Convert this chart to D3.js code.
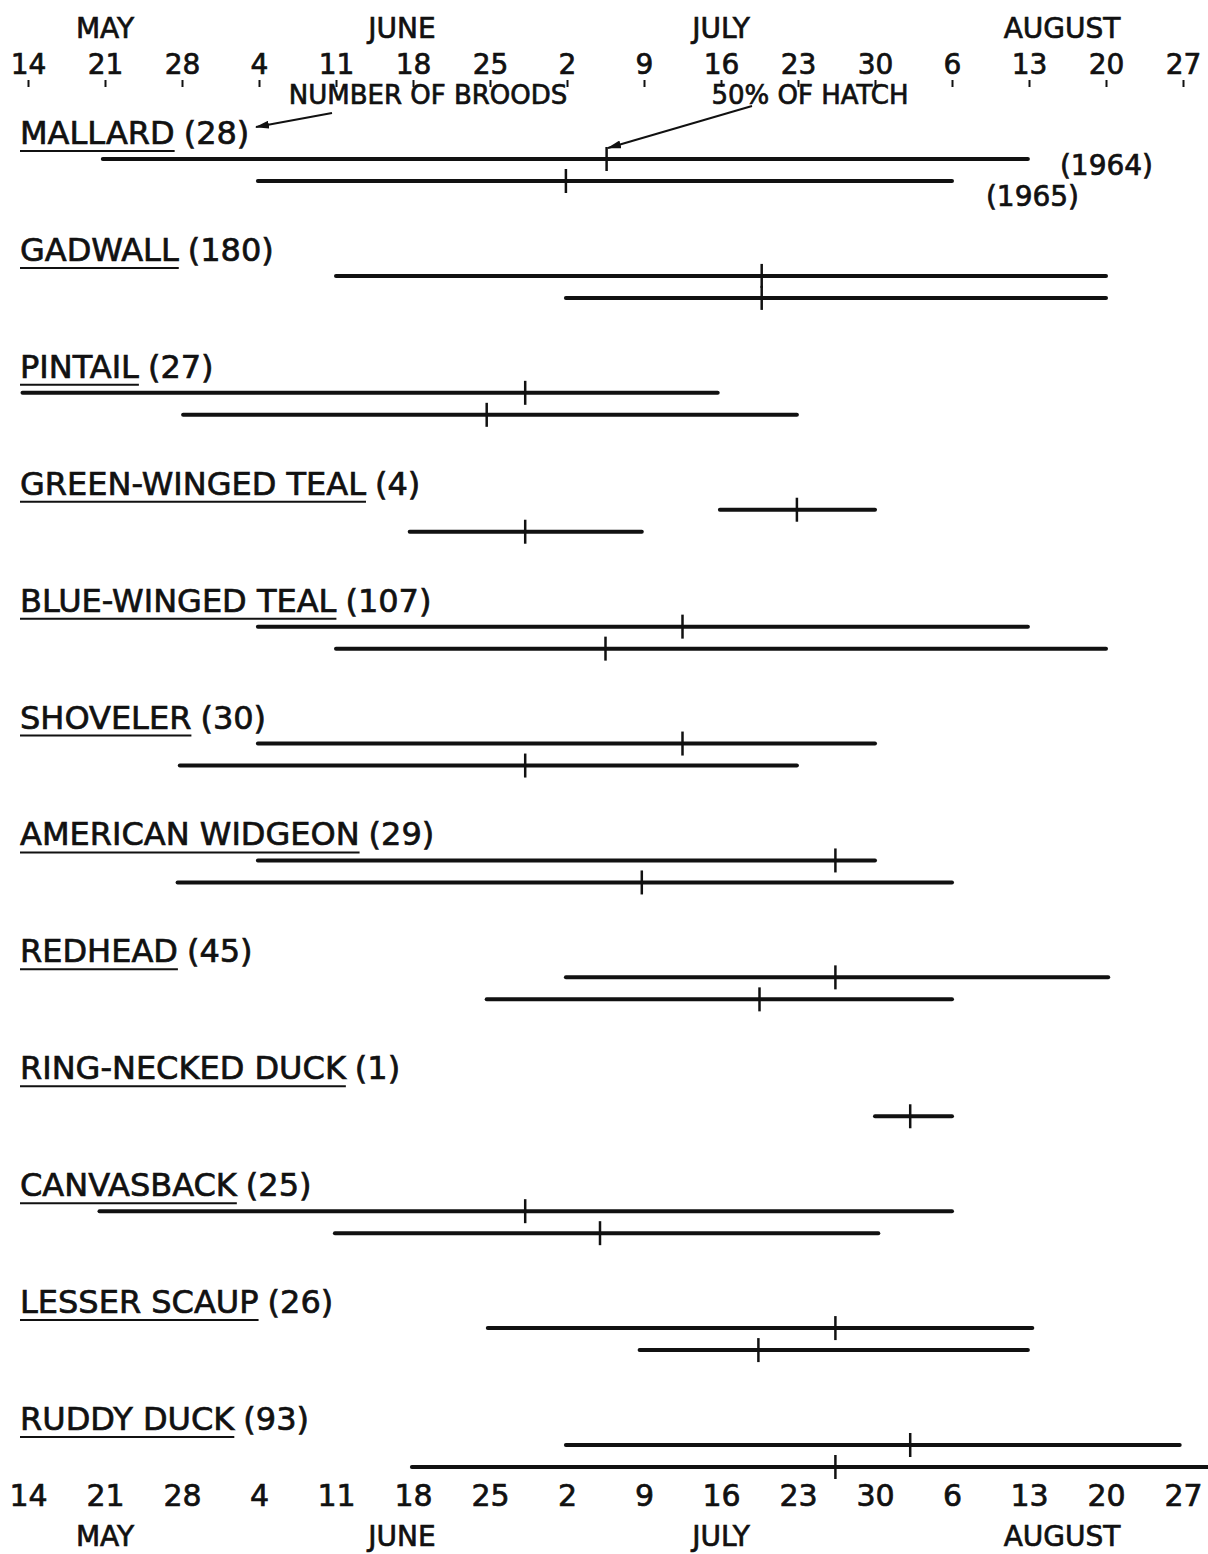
<!DOCTYPE html>
<html>
<head>
<meta charset="utf-8">
<script src="https://cdn.jsdelivr.net/npm/d3@7"></script>
<style>
  body { margin: 0; background: #fff; }
  text { font-family: 'DejaVu Sans', sans-serif; fill: #111; stroke: #111; stroke-width: 0.7; }
</style>
</head>
<body>
<div id="chart"></div>
<script>
// days counted from May 14 (day 0)
var tickDays = [0, 7, 14, 21, 28, 35, 42, 49, 56, 63, 70, 77, 84, 91, 98, 105]
var tickLabels = ['14', '21', '28', '4', '11', '18', '25', '2', '9', '16', '23', '30', '6', '13', '20', '27']
var months = ['MAY', 'JUNE', 'JULY', 'AUGUST']
var monthDays = [7, 34, 63, 94]

var species = ['MALLARD', 'GADWALL', 'PINTAIL', 'GREEN-WINGED TEAL', 'BLUE-WINGED TEAL', 'SHOVELER',
  'AMERICAN WIDGEON', 'REDHEAD', 'RING-NECKED DUCK', 'CANVASBACK', 'LESSER SCAUP', 'RUDDY DUCK']
var broods = [28, 180, 27, 4, 107, 30, 29, 45, 1, 25, 26, 93]

// hatch period per year: [start, end, 50% of hatch], null where none
var start1964 = [6.8, 28, -0.5, 62.9, 20.9, 20.9, 20.9, 48.9, null, 6.5, 41.8, 48.9]
var end1964 = [90.9, 98, 62.7, 77, 90.9, 77, 77, 98.2, null, 84, 91.3, 104.7]
var mid1964 = [52.6, 66.7, 45.2, 69.9, 59.5, 59.5, 73.4, 73.4, null, 45.2, 73.4, 80.2]

var start1965 = [20.9, 48.9, 14.1, 34.7, 28, 13.8, 13.6, 41.7, 77, 27.9, 55.6, 34.9]
var end1965 = [84, 98, 69.9, 55.8, 98, 69.9, 84, 84, 84, 77.3, 90.9, 107.3]
var mid1965 = [48.9, 66.7, 41.7, 45.2, 52.5, 45.2, 55.8, 66.5, 80.2, 52, 66.4, 73.4]

var years = ['1964', '1965']

var width = 1208
var height = 1554

var svg = d3.select('#chart')
  .append('svg')
  .attr('width', width)
  .attr('height', height)

var x = d3.scaleLinear().domain([0, 105]).range([28, 1183])

var rowScale = d3.scalePoint().domain(species).range([144, 1430])
var yearOffset = d3.scalePoint().domain(years).range([15, 37])

var rows = species.map(function(name, i) {
  return {
    name: name,
    n: broods[i],
    periods: [
      { year: '1964', start: start1964[i], end: end1964[i], mid: mid1964[i] },
      { year: '1965', start: start1965[i], end: end1965[i], mid: mid1965[i] }
    ].filter(function(p) { return p.start !== null })
  }
})

// top axis: numbers above small ticks
var topAxis = d3.axisTop(x)
  .tickValues(tickDays)
  .tickFormat(function(d, i) { return tickLabels[i] })
  .tickSize(7)
  .tickPadding(6)

var gTop = svg.append('g')
  .attr('transform', 'translate(0,87)')
  .call(topAxis)
gTop.select('.domain').remove()
gTop.selectAll('.tick line').attr('stroke', '#111').attr('stroke-width', 2)
gTop.selectAll('.tick text')
  .attr('font-size', 28)
  .attr('font-family', 'DejaVu Sans')
  .attr('fill', '#111')

// bottom axis: numbers only
var bottomAxis = d3.axisBottom(x)
  .tickValues(tickDays)
  .tickFormat(function(d, i) { return tickLabels[i] })
  .tickSize(0)
  .tickPadding(0)

var gBottom = svg.append('g')
  .attr('transform', 'translate(0,1485)')
  .call(bottomAxis)
gBottom.select('.domain').remove()
gBottom.selectAll('.tick text')
  .attr('font-size', 30)
  .attr('font-family', 'DejaVu Sans')
  .attr('fill', '#111')

// month labels
svg.selectAll('.month-top')
  .data(months)
  .enter()
  .append('text')
  .attr('class', 'month-top')
  .attr('x', function(d, i) { return x(monthDays[i]) })
  .attr('y', 38)
  .attr('text-anchor', 'middle')
  .attr('font-size', 28)
  .text(function(d) { return d })

svg.selectAll('.month-bottom')
  .data(months)
  .enter()
  .append('text')
  .attr('class', 'month-bottom')
  .attr('x', function(d, i) { return x(monthDays[i]) })
  .attr('y', 1546)
  .attr('text-anchor', 'middle')
  .attr('font-size', 28)
  .text(function(d) { return d })

// rows
var row = svg.selectAll('.row')
  .data(rows)
  .enter()
  .append('g')
  .attr('class', 'row')
  .attr('transform', function(d) { return 'translate(0,' + rowScale(d.name) + ')' })

row.each(function(d) {
  var g = d3.select(this)
  var label = g.append('text')
    .attr('x', 20)
    .attr('y', 0)
    .attr('font-size', 32)
    .text(d.name)
  var w = label.node().getComputedTextLength()

  g.append('line')
    .attr('x1', 20)
    .attr('x2', 20 + w)
    .attr('y1', 7)
    .attr('y2', 7)
    .attr('stroke', '#111')
    .attr('stroke-width', 2)

  g.append('text')
    .attr('x', 20 + w + 9)
    .attr('y', 0)
    .attr('font-size', 32)
    .text('(' + d.n + ')')

  g.selectAll('.period')
    .data(d.periods)
    .enter()
    .append('line')
    .attr('class', 'period')
    .attr('x1', function(p) { return x(p.start) })
    .attr('x2', function(p) { return x(p.end) })
    .attr('y1', function(p) { return yearOffset(p.year) })
    .attr('y2', function(p) { return yearOffset(p.year) })
    .attr('stroke', '#111')
    .attr('stroke-width', 4)
    .attr('stroke-linecap', 'round')

  g.selectAll('.mid')
    .data(d.periods)
    .enter()
    .append('line')
    .attr('class', 'mid')
    .attr('x1', function(p) { return x(p.mid) })
    .attr('x2', function(p) { return x(p.mid) })
    .attr('y1', function(p) { return yearOffset(p.year) - 12 })
    .attr('y2', function(p) { return yearOffset(p.year) + 12 })
    .attr('stroke', '#111')
    .attr('stroke-width', 2.5)
})

// year labels next to the mallard lines
var mallardY = rowScale('MALLARD')
svg.append('text')
  .attr('x', x(end1964[0]) + 32)
  .attr('y', mallardY + yearOffset('1964') + 16)
  .attr('font-size', 28)
  .text('(1964)')
svg.append('text')
  .attr('x', x(end1964[0]) - 42)
  .attr('y', mallardY + yearOffset('1965') + 25)
  .attr('font-size', 28)
  .text('(1965)')

// legend notes with arrows
svg.append('defs')
  .append('marker')
  .attr('id', 'arrow')
  .attr('viewBox', '0 0 14 8')
  .attr('refX', 13)
  .attr('refY', 4)
  .attr('markerWidth', 14)
  .attr('markerHeight', 8)
  .attr('markerUnits', 'userSpaceOnUse')
  .attr('orient', 'auto')
  .append('path')
  .attr('d', 'M0,0 L14,4 L0,8 Z')
  .attr('fill', '#111')

svg.append('text')
  .attr('x', 428)
  .attr('y', 104)
  .attr('text-anchor', 'middle')
  .attr('font-size', 26)
  .text('NUMBER  OF  BROODS')

svg.append('text')
  .attr('x', 810)
  .attr('y', 104)
  .attr('text-anchor', 'middle')
  .attr('font-size', 26)
  .text('50%  OF  HATCH')

svg.append('line')
  .attr('x1', 332).attr('y1', 113)
  .attr('x2', 256).attr('y2', 127)
  .attr('stroke', '#111')
  .attr('stroke-width', 2)
  .attr('marker-end', 'url(#arrow)')

svg.append('line')
  .attr('x1', 752).attr('y1', 106)
  .attr('x2', 608).attr('y2', 148)
  .attr('stroke', '#111')
  .attr('stroke-width', 2)
  .attr('marker-end', 'url(#arrow)')
</script>
</body>
</html>
